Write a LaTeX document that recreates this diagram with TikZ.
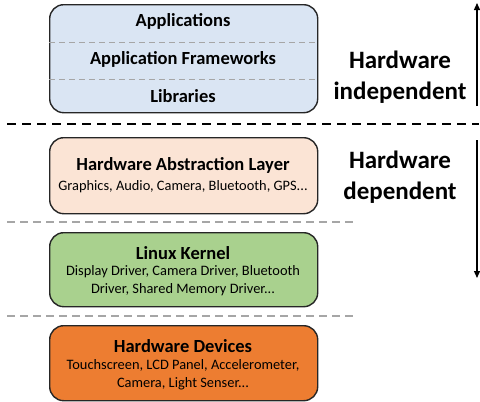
\documentclass[tikz,border=0pt]{standalone}
\usepackage{fontspec}
\setmainfont{Carlito}
\usetikzlibrary{arrows.meta}
\definecolor{appblue}{HTML}{DAE5F3}
\definecolor{halpeach}{HTML}{FBE4D5}
\definecolor{kgreen}{HTML}{A9D18E}
\definecolor{devorange}{HTML}{ED7D31}
\definecolor{divgray}{HTML}{A6A6A6}
\tikzset{
  layer/.style={draw=black!85, line width=1.4pt, rounded corners=14pt,
    minimum width=268pt, inner sep=0pt, anchor=north west},
  title/.style={font=\fontsize{18.5}{22}\selectfont\bfseries},
  detail/.style={font=\fontsize{14.4}{18}\selectfont, align=center},
  sidelabel/.style={font=\fontsize{25}{31}\selectfont\bfseries, align=center},
  graydiv/.style={draw=divgray, line width=1.1pt, dash pattern=on 8pt off 5pt},
  blackdiv/.style={draw=black, line width=1.4pt, dash pattern=on 9pt off 6pt},
  span/.style={draw=black, line width=1.3pt, -{Triangle[length=7pt,width=6pt]}}
}
\begin{document}
\begin{tikzpicture}[x=1pt,y=-1pt]
\useasboundingbox (0,0) rectangle (480,402);

% layer boxes
\node[layer, fill=appblue, minimum height=108pt] (apps) at (49,4) {};
\node[layer, fill=halpeach, minimum height=76pt] (hal) at (49,137) {};
\node[layer, fill=kgreen, minimum height=74pt] (kernel) at (49,232) {};
\node[layer, fill=devorange, minimum height=75pt] (dev) at (49,325) {};

% dividers inside the application stack
\draw[graydiv, line width=0.9pt, dash pattern=on 6pt off 4pt] (apps.west |- 0,42) -- (apps.east |- 0,42);
\draw[graydiv, line width=0.9pt, dash pattern=on 6pt off 4pt] (apps.west |- 0,79) -- (apps.east |- 0,79);

% texts of the application stack
\node[title] (tapp) at (183,21) {Applications};
\node[title] (tfw) at (183,59) {Application Frameworks};
\node[title] (tlib) at (183,96) {Libraries};

% HAL
\node[title] (thal) at (183,165) {Hardware Abstraction Layer};
\node[detail] (dhal) at (183,187) {Graphics, Audio, Camera, Bluetooth, GPS...};

% kernel
\node[title] (tker) at (183,253) {Linux Kernel};
\node[detail] (dker) at (183,281) {Display Driver, Camera Driver, Bluetooth\\Driver, Shared Memory Driver...};

% devices
\node[title] (tdev) at (183,346) {Hardware Devices};
\node[detail] (ddev) at (183,375) {Touchscreen, LCD Panel, Accelerometer,\\Camera, Light Senser...};

% horizontal separators
\draw[blackdiv] (7,124) -- (479,124);
\draw[graydiv] (7,222) -- (355,222);
\draw[graydiv] (7,316) -- (355,316);

% side labels
\node[sidelabel] (indep) at (400,77) {Hardware\\independent};
\node[sidelabel] (dep) at (400,177) {Hardware\\dependent};

% extent arrows
\coordinate (ia) at (477,106);
\coordinate (ib) at (477,3);
\coordinate (da) at (477,140);
\coordinate (db) at (477,278);
\draw[span] (ia) -- (ib);
\draw[span] (da) -- (db);
\end{tikzpicture}
\end{document}
